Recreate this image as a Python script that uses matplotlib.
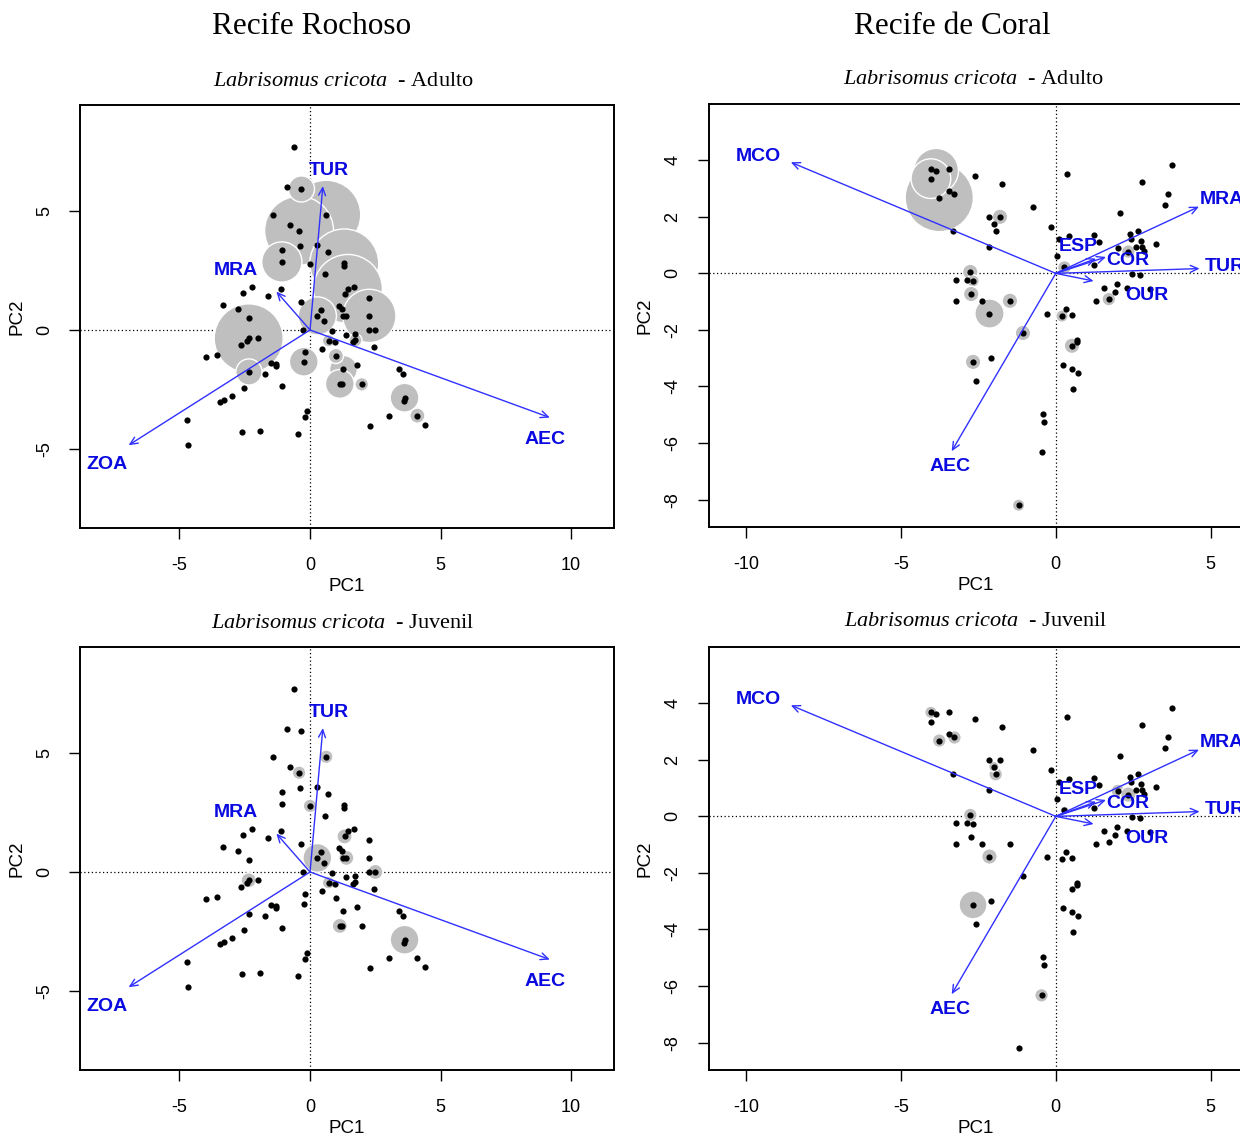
import matplotlib
matplotlib.use("Agg")
import matplotlib.pyplot as plt

plt.rcParams['font.family'] = ['Liberation Sans', 'DejaVu Sans']
plt.rcParams['axes.unicode_minus'] = False
plt.rcParams['mathtext.fontset'] = 'custom'
plt.rcParams['mathtext.rm'] = 'Liberation Serif'
plt.rcParams['mathtext.it'] = 'Liberation Serif:italic'

# ---------------- Recife Rochoso: PCA scores of the sites
rock_pc1 = [-0.61, -0.90, -0.33, 0.62, -1.41, -0.75, -0.42, 0.25, -0.38, 0.67,
            -1.08, -1.08, 0.00, 1.31, 1.31, 0.57, 1.70, 1.45, -2.22, -2.55,
            -1.12, -1.61, 1.32, -3.34, -0.33, -2.77, 2.27, 1.12, 1.22, 0.42,
            0.28, 0.53, 1.28, 1.39, 2.27, -2.35, -0.26, 0.85, 2.27, 2.50,
            -1.98, -2.35, -2.42, -2.64, 1.37, 1.74, 0.71, 0.94, 1.74, 1.64,
            2.46, 0.45, -4.00, -3.57, -0.18, 0.99, -0.24, -1.51, -1.29, -1.32,
            1.78, 1.28, -2.34, -1.74, 3.40, 3.55, 1.14, 1.24, 1.98, -1.08,
            -2.54, -3.00, -3.30, -3.45, 3.62, 3.58, -0.13, -0.18, 3.03, 4.11,
            4.39, -4.70, 2.31, -2.59, -1.90, -0.48, -4.66]
rock_pc2 = [7.68, 6.01, 5.91, 4.83, 4.83, 4.40, 4.16, 3.56, 3.51, 3.27,
            3.37, 2.85, 2.77, 2.79, 2.67, 2.33, 1.80, 1.72, 1.82, 1.54,
            1.72, 1.44, 1.49, 1.06, 1.16, 0.88, 1.34, 1.02, 0.88, 0.82,
            0.59, 0.36, 0.59, 0.59, 0.59, 0.50, 0.01, -0.04, 0.00, 0.00,
            -0.34, -0.35, -0.46, -0.63, -0.20, -0.15, -0.45, -0.49, -0.43, -0.52,
            -0.71, -0.81, -1.13, -1.05, -0.91, -1.09, -1.33, -1.37, -1.42, -1.51,
            -1.47, -1.65, -1.76, -1.84, -1.65, -1.86, -2.26, -2.26, -2.28, -2.36,
            -2.42, -2.78, -2.93, -3.02, -2.84, -2.97, -3.39, -3.63, -3.59, -3.59,
            -3.97, -3.77, -4.01, -4.29, -4.23, -4.34, -4.82]

# bubble radius (PC1 units) for sites where the species occurs
rock_adult_site = [3, 6, 2, 11, 13, 17, 34, 41, 30, 56, 62, 61, 66, 68, 74, 79, 55, 46, 48]
rock_adult_r = [1.32, 1.32, 0.50, 0.77, 1.32, 1.32, 1.02, 1.32, 0.73, 0.55,
                0.50, 0.53, 0.55, 0.26, 0.55, 0.29, 0.29, 0.24, 0.25]
rock_juv_site = [3, 6, 12, 22, 30, 33, 39, 41, 46, 66, 74]
rock_juv_r = [0.26, 0.26, 0.26, 0.29, 0.55, 0.29, 0.29, 0.29, 0.24, 0.29, 0.55]

# variable loadings
rock_vars = ['TUR', 'MRA', 'ZOA', 'AEC']
rock_load_x = [0.49, -1.29, -6.95, 9.18]
rock_load_y = [6.03, 1.61, -4.83, -3.67]
rock_lab_x = [0.73, -2.85, -7.77, 9.01]
rock_lab_y = [6.70, 2.49, -5.63, -4.57]
rock_lab_ha = ['center', 'center', 'center', 'center']

# ---------------- Recife de Coral
coral_pc1 = [-4.03, -3.86, -3.44, -4.03, -3.45, -3.27, -3.76, -2.61, -1.74, -0.73,
             -2.16, -1.80, -2.00, -1.94, -3.33, -2.16, -0.14, 0.37, 3.74, 2.78,
             3.63, 3.52, 2.08, 0.09, 0.41, 1.24, 1.39, 2.41, 2.64, 2.44,
             2.74, 3.23, 2.59, 2.78, 2.84, 2.00, 2.34, 0.04, 1.24, 0.28,
             2.45, 2.71, -2.76, -3.21, -2.88, -2.67, -2.73, -3.21, -2.37, -1.48,
             -2.14, -0.30, 0.20, 0.33, 0.52, -1.06, 0.67, 0.52, 0.68, -2.08,
             -2.67, -2.57, 0.24, 0.52, 0.70, 0.56, -0.42, -0.38, -0.46, -1.20,
             1.56, 1.96, 1.92, 2.29, 1.29, 1.71, 3.04]
coral_pc2 = [3.68, 3.63, 3.70, 3.35, 2.92, 2.79, 2.68, 3.43, 3.16, 2.36,
             2.00, 2.00, 1.76, 1.49, 1.49, 0.94, 1.64, 3.51, 3.82, 3.23,
             2.79, 2.41, 2.12, 1.21, 1.32, 1.37, 1.12, 1.40, 1.49, 1.20,
             1.16, 1.04, 0.94, 0.94, 0.80, 0.90, 0.77, 0.61, 0.29, 0.21,
             -0.01, -0.06, 0.05, -0.24, -0.24, -0.27, -0.73, -0.98, -0.98, -0.97,
             -1.42, -1.42, -1.51, -1.27, -1.46, -2.11, -2.36, -2.56, -2.42, -2.98,
             -3.13, -3.79, -3.23, -3.38, -3.51, -4.10, -4.98, -5.26, -6.33, -8.20,
             -0.50, -0.38, -0.67, -0.50, -0.98, -0.91, -0.54]

coral_adult_site = [6, 1, 3, 11, 42, 45, 46, 49, 50, 55, 57, 52, 60, 69, 39, 36, 75]
coral_adult_r = [1.10, 0.72, 0.64, 0.25, 0.25, 0.20, 0.25, 0.25, 0.47, 0.25,
                 0.25, 0.20, 0.25, 0.20, 0.22, 0.22, 0.22]
coral_juv_site = [0, 6, 5, 13, 12, 42, 50, 60, 68, 35, 36, 39]
coral_juv_r = [0.20, 0.22, 0.22, 0.22, 0.17, 0.22, 0.25, 0.45, 0.22, 0.22, 0.25, 0.14]

coral_vars = ['MCO', 'MRA', 'TUR', 'ESP', 'COR', 'OUR', 'AEC']
coral_load_x = [-8.55, 4.62, 4.64, 1.30, 1.62, 1.22, -3.36]
coral_load_y = [3.93, 2.36, 0.17, 0.52, 0.58, -0.27, -6.29]
coral_lab_x = [-9.61, 4.64, 4.81, 0.72, 2.31, 2.93, -3.40]
coral_lab_y = [4.15, 2.63, 0.24, 0.94, 0.44, -0.80, -6.84]
coral_lab_ha = ['center', 'left', 'left', 'center', 'center', 'center', 'center']

W, H = 1240, 1133
fig = plt.figure(figsize=(W / 100, H / 100), dpi=100)


def box(x0, y0, x1, y1):
    return [x0 / W, 1 - y1 / H, (x1 - x0) / W, (y1 - y0) / H]


def biplot(ax, pc1, pc2, site, rad, vars_, lx, ly, tx, ty, ha,
           xlim, ylim, xticks, yticks, ypad):
    ax.set_xlim(xlim)
    ax.set_ylim(ylim)
    ax.axhline(0, color='black', lw=0.9, ls=(0, (1, 2)), zorder=1)
    ax.axvline(0, color='black', lw=0.9, ls=(0, (1, 2)), zorder=1)

    # bubbles are circles on the page, radius given in PC1 units
    ppu = ax.get_position().width * W / (xlim[1] - xlim[0])
    bx = [pc1[i] for i in site]
    by = [pc2[i] for i in site]
    sizes = [(2 * r * ppu * 0.72) ** 2 for r in rad]
    ax.scatter(bx, by, s=sizes, c='#bfbfbf', edgecolors='white',
               linewidths=1.0, zorder=2)
    ax.scatter(pc1, pc2, s=20, c='black', linewidths=0, zorder=3)

    for name, x, y, x2, y2, h in zip(vars_, lx, ly, tx, ty, ha):
        ax.annotate('', xy=(x, y), xytext=(0, 0),
                    arrowprops=dict(arrowstyle='->,head_length=0.55,head_width=0.25',
                                    color='#3030ff', lw=1.0,
                                    shrinkA=0, shrinkB=0), zorder=4)
        ax.text(x2, y2, name, color='#0a0ae0', fontsize=14, fontweight='bold',
                ha=h, va='center', zorder=5, clip_on=False)

    ax.set_xticks(xticks)
    ax.set_yticks(yticks)
    ax.tick_params(axis='x', direction='out', length=8, width=1.0,
                   labelsize=13, pad=13)
    ax.tick_params(axis='y', direction='out', length=8, width=1.0,
                   labelsize=13, pad=ypad, labelrotation=90)
    for lab in ax.get_yticklabels():
        lab.set_va('center')
    for sp in ax.spines.values():
        sp.set_linewidth(1.4)
    ax.set_xlabel('PC1', fontsize=13.5, labelpad=3)
    ax.set_ylabel('PC2', fontsize=13.5, labelpad=8)


ax1 = fig.add_axes(box(80, 105, 614, 528))
biplot(ax1, rock_pc1, rock_pc2, rock_adult_site, rock_adult_r, rock_vars,
       rock_load_x, rock_load_y, rock_lab_x, rock_lab_y, rock_lab_ha,
       (-8.81, 11.64), (-8.30, 9.43), [-5, 0, 5, 10], [-5, 0, 5], 11)

ax2 = fig.add_axes(box(80, 647, 614, 1070))
biplot(ax2, rock_pc1, rock_pc2, rock_juv_site, rock_juv_r, rock_vars,
       rock_load_x, rock_load_y, rock_lab_x, rock_lab_y, rock_lab_ha,
       (-8.81, 11.64), (-8.30, 9.43), [-5, 0, 5, 10], [-5, 0, 5], 11)

ax3 = fig.add_axes(box(709, 104, 1243, 527))
biplot(ax3, coral_pc1, coral_pc2, coral_adult_site, coral_adult_r, coral_vars,
       coral_load_x, coral_load_y, coral_lab_x, coral_lab_y, coral_lab_ha,
       (-11.19, 6.04), (-8.97, 5.99), [-10, -5, 0, 5], [-8, -6, -4, -2, 0, 2, 4], 12)

ax4 = fig.add_axes(box(709, 647, 1243, 1070))
biplot(ax4, coral_pc1, coral_pc2, coral_juv_site, coral_juv_r, coral_vars,
       coral_load_x, coral_load_y, coral_lab_x, coral_lab_y, coral_lab_ha,
       (-11.19, 6.04), (-8.97, 5.99), [-10, -5, 0, 5], [-8, -6, -4, -2, 0, 2, 4], 12)

# headers
fig.text(312 / W, 1 - 27 / H, 'Recife Rochoso', fontfamily='Liberation Serif',
         fontsize=22.5, ha='center', va='center')
fig.text(952 / W, 1 - 27 / H, 'Recife de Coral', fontfamily='Liberation Serif',
         fontsize=22.5, ha='center', va='center')

sub = r'$\it{Labrisomus\ cricota}$  - '
fig.text(343 / W, 1 - 81 / H, sub + 'Adulto', fontfamily='Liberation Serif',
         fontsize=16, ha='center', va='center')
fig.text(973 / W, 1 - 80 / H, sub + 'Adulto', fontfamily='Liberation Serif',
         fontsize=16, ha='center', va='center')
fig.text(343 / W, 1 - 623 / H, sub + 'Juvenil', fontfamily='Liberation Serif',
         fontsize=16, ha='center', va='center')
fig.text(976 / W, 1 - 622 / H, sub + 'Juvenil', fontfamily='Liberation Serif',
         fontsize=16, ha='center', va='center')

fig.savefig('out.png', dpi=100)
